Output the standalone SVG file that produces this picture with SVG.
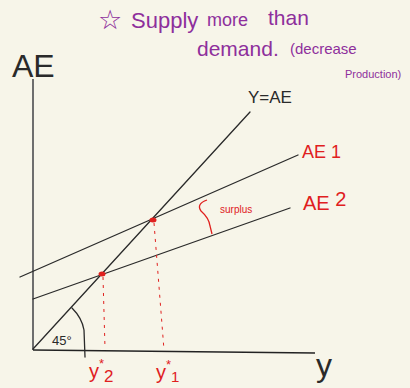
<svg xmlns="http://www.w3.org/2000/svg" width="410" height="388" viewBox="0 0 410 388">
<style>
.ln{stroke:#2a2a2a;stroke-width:1.3;fill:none;stroke-linecap:round}
.red{fill:#e0201e;font-family:"Liberation Sans","DejaVu Sans",sans-serif}
.pur{fill:#8e2f9c;font-family:"Liberation Sans","DejaVu Sans",sans-serif}
.blk{fill:#2a2a2a;font-family:"Liberation Sans","DejaVu Sans",sans-serif}
.dash{stroke:#e0201e;stroke-width:1;stroke-dasharray:3 5;fill:none}
</style>
<rect width="410" height="388" fill="#f7f5e9"/>
<g id="note">
<text class="pur" x="98" y="29" font-size="27">☆</text>
<text class="pur" x="131" y="28" font-size="22">Supply</text>
<text class="pur" x="207" y="26" font-size="18">more</text>
<text class="pur" x="268" y="25" font-size="21">than</text>
<text class="pur" x="197" y="56" font-size="21">demand.</text>
<text class="pur" x="290" y="54" font-size="15">(decrease</text>
<text class="pur" x="345" y="78" font-size="11">Production)</text>
</g>
<g id="axes">
<line x1="33" y1="79" x2="33" y2="350" stroke="#6e6e6e" stroke-width="2"/>
<line x1="33" y1="350" x2="315" y2="353" stroke="#222" stroke-width="1.6"/>
<text class="blk" x="12" y="77" font-size="32">AE</text>
<text class="blk" x="316" y="376" font-size="32">y</text>
</g>
<g id="connectors">
<line class="ln" x1="33" y1="349" x2="250" y2="112"/>
<line class="ln" x1="20" y1="277" x2="298" y2="155"/>
<line class="ln" x1="33" y1="299" x2="290" y2="208"/>
<path class="dash" d="M103 277 L105 348"/>
<path class="dash" d="M154 223 L164 350"/>
<path d="M72 308 Q82 318 84 330 L85 357" class="ln" stroke-width="1.1"/>
<path d="M207 200 Q196 204 201 211 Q209 218 210 226 L212 234" stroke="#e0201e" stroke-width="1.3" fill="none"/>
</g>
<g id="points">
<ellipse cx="153" cy="220" rx="3.5" ry="2.5" fill="#e0201e"/>
<ellipse cx="102" cy="274" rx="3.5" ry="2.5" fill="#e0201e"/>
</g>
<g id="labels">
<text class="blk" x="248" y="103" font-size="17">Y=AE</text>
<text class="red" x="302" y="158" font-size="18">AE 1</text>
<text class="red" x="303" y="210" font-size="20">AE <tspan dy="-4">2</tspan></text>
<text class="red" x="220" y="213" font-size="10">surplus</text>
<text class="blk" x="52" y="345" font-size="13">45°</text>
<text class="red" x="89" y="378" font-size="20">y<tspan dy="-10" font-size="13">*</tspan><tspan dy="14" font-size="17">2</tspan></text>
<text class="red" x="156" y="379" font-size="20">y<tspan dy="-10" font-size="13">*</tspan><tspan dy="13" font-size="15">1</tspan></text>
</g>
</svg>
